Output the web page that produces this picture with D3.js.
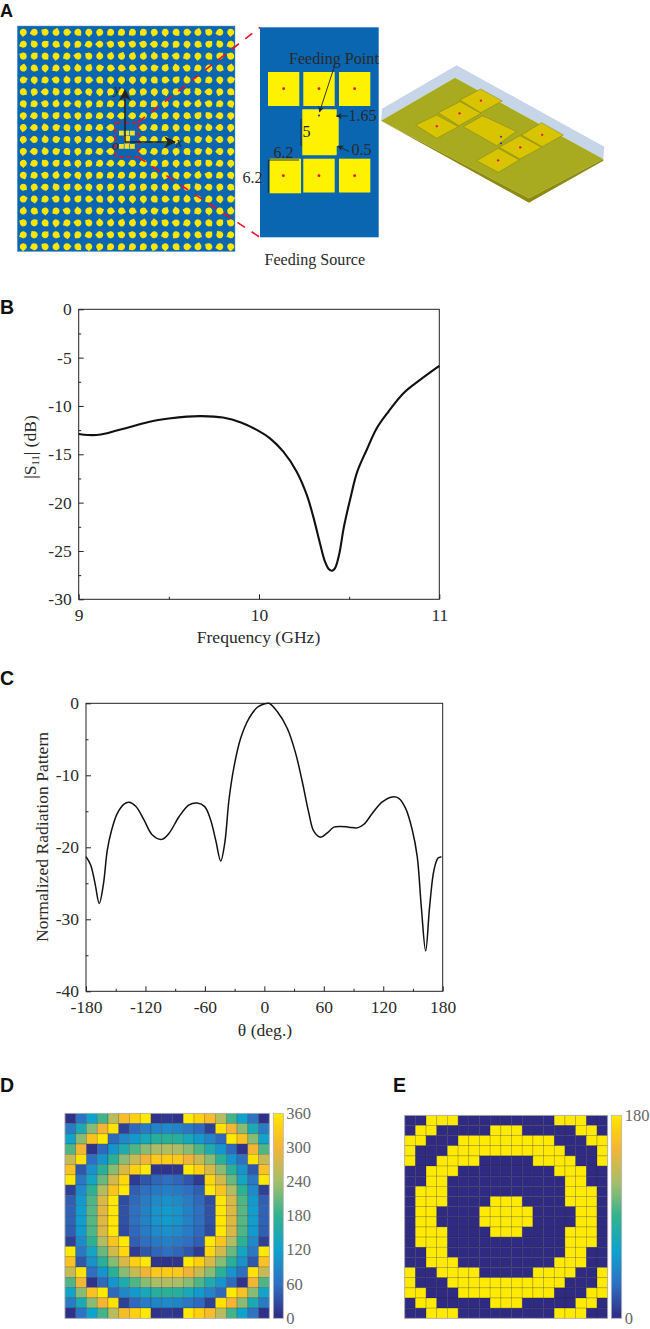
<!DOCTYPE html>
<html>
<head>
<meta charset="utf-8">
<script src="https://cdn.jsdelivr.net/npm/d3@7/dist/d3.min.js"></script>
<style>
  html, body { margin: 0; padding: 0; background: #fff; }
  svg { display: block; }
  text { font-family: "Liberation Serif", serif; fill: #2a2a2a; }
  .letter { font-family: "Liberation Sans", sans-serif; font-weight: 700; font-size: 19.5px; fill: #111; }
  .tick text { font-family: "Liberation Serif", serif; font-size: 17.5px; fill: #2a2a2a; }
  .tick line { stroke: #222; }
</style>
</head>
<body>
<svg id="chart" width="650" height="1329"></svg>
<script>
// Panel B: |S11| against frequency
const s11Freq = [9, 9.05, 9.1, 9.15, 9.2, 9.3, 9.4, 9.5, 9.6, 9.68, 9.8, 9.9, 10, 10.061, 10.135, 10.209, 10.265, 10.301, 10.338, 10.366, 10.388, 10.405, 10.421, 10.444, 10.471, 10.505, 10.545, 10.597, 10.653, 10.717, 10.8, 10.893, 11];
const s11Db = [-12.9, -13, -13, -12.85, -12.6, -12.1, -11.6, -11.3, -11.1, -11.05, -11.2, -11.7, -12.6, -13.35, -14.73, -16.8, -19.2, -21.45, -24.2, -26.1, -26.9, -27.04, -26.8, -25.4, -22.5, -19.7, -16.8, -14.55, -12.3, -10.6, -8.7, -7.3, -5.85];
const s11YTicks = [0, -5, -10, -15, -20, -25, -30];
const s11YMinor = [-2.5, -7.5, -12.5, -17.5, -22.5, -27.5];
const s11XTicks = [9, 10, 11];
const s11XMinor = [9.5, 10.5];

// Panel C: radiation pattern
const patTheta = [-180, -175.3, -170.9, -166.6, -162.5, -158.5, -154.5, -148.4, -141.6, -136.6, -129.8, -121.5, -113, -103.6, -96.2, -86.1, -76, -67.7, -60.2, -54.2, -49.1, -44, -40, -35.7, -30.6, -24, -15.5, -7, -0.4, 4.7, 13, 23.2, 31.6, 38.3, 45, 50, 56.8, 63.5, 70.2, 77, 85.4, 93.8, 100.5, 108.9, 119, 129, 135.8, 142.6, 149.3, 154.3, 158.4, 162.8, 166.8, 171.2, 175.3, 178.7];
const patDb = [-21.3, -22.46, -25, -27.8, -25.2, -20.4, -17.8, -15.3, -14, -13.75, -14.3, -16.2, -18.3, -18.9, -18.05, -15.75, -14.1, -13.85, -14.35, -16.2, -19, -21.9, -19.45, -13.4, -8.8, -4.9, -2.1, -0.55, -0.1, 0, -1.15, -3.5, -6.95, -10.9, -15.3, -17.8, -18.6, -18, -17.2, -17.1, -17.2, -17.3, -16.8, -15.3, -13.7, -13, -13.2, -14.6, -17.6, -21.3, -28.25, -34.4, -28.25, -23.15, -21.5, -21.3];
const patYTicks = [0, -10, -20, -30, -40];
const patYMinor = [-5, -15, -25, -35];
const patXTicks = [-180, -120, -60, 0, 60, 120, 180];
const patXMinor = [-150, -90, -30, 30, 90, 150];

// Panel D: phase distribution, 20 rows of 19 cells
const phaseD = [
  [5, 65, 120, 190, 255, 310, 335, 358, 8, 12, 8, 358, 335, 310, 255, 190, 120, 65, 5],
  [75, 145, 225, 300, 352, 20, 55, 75, 85, 90, 85, 70, 55, 20, 352, 300, 225, 145, 75],
  [125, 225, 318, 358, 55, 88, 110, 140, 165, 172, 165, 140, 110, 85, 55, 358, 318, 225, 125],
  [195, 300, 8, 55, 105, 150, 195, 225, 245, 250, 245, 225, 195, 150, 105, 55, 8, 300, 195],
  [265, 352, 60, 105, 172, 225, 265, 298, 325, 330, 325, 298, 265, 225, 172, 105, 60, 352, 265],
  [318, 40, 100, 170, 225, 280, 335, 358, 10, 8, 10, 358, 335, 280, 225, 170, 100, 40, 318],
  [358, 70, 130, 210, 275, 342, 15, 38, 52, 60, 52, 38, 15, 342, 275, 210, 130, 70, 358],
  [20, 90, 175, 250, 320, 358, 45, 60, 72, 80, 72, 60, 45, 358, 320, 250, 175, 90, 20],
  [45, 110, 195, 280, 356, 30, 55, 75, 90, 100, 90, 75, 55, 30, 356, 280, 195, 110, 45],
  [50, 115, 200, 285, 356, 35, 60, 82, 102, 112, 102, 82, 60, 35, 356, 285, 200, 115, 50],
  [50, 115, 200, 285, 356, 35, 60, 82, 102, 112, 102, 82, 60, 35, 356, 285, 200, 115, 50],
  [45, 110, 195, 280, 356, 30, 55, 75, 90, 100, 90, 75, 55, 30, 356, 280, 195, 110, 45],
  [20, 90, 175, 250, 320, 358, 45, 60, 72, 80, 72, 60, 45, 358, 320, 250, 175, 90, 20],
  [358, 70, 130, 210, 275, 342, 15, 38, 52, 60, 52, 38, 15, 342, 275, 210, 130, 70, 358],
  [318, 40, 100, 170, 225, 280, 335, 358, 10, 8, 10, 358, 335, 280, 225, 170, 100, 40, 318],
  [265, 352, 60, 105, 172, 225, 265, 298, 325, 330, 325, 298, 265, 225, 172, 105, 60, 352, 265],
  [195, 300, 8, 55, 105, 150, 195, 225, 245, 250, 245, 225, 195, 150, 105, 55, 8, 300, 195],
  [125, 225, 318, 358, 55, 88, 110, 140, 165, 172, 165, 140, 110, 85, 55, 358, 318, 225, 125],
  [75, 145, 225, 300, 352, 20, 55, 75, 85, 90, 85, 70, 55, 20, 352, 300, 225, 145, 75],
  [5, 65, 120, 190, 255, 310, 335, 358, 8, 12, 8, 358, 335, 310, 255, 190, 120, 65, 5]
];
const phaseDTicks = [0, 60, 120, 180, 240, 300, 360];

// Panel E: 1-bit phase, 0 means 0 deg. and 1 means 180 deg.
const phaseE = [
  '0011100000000011100',
  '0110000011100000110',
  '1100011111111100011',
  '1000111111111110001',
  '1001111000001111001',
  '0011100000000011100',
  '0011000000000001100',
  '0111000000000001110',
  '0111000011100001110',
  '0110000111110000110',
  '0110000111110000110',
  '0111000011100001110',
  '0111000000000001110',
  '0011000000000001100',
  '0011100000000011100',
  '1001111000001111001',
  '1000111111111110001',
  '1100011111111100011',
  '0110000011100000110',
  '0011100000000011100'
];
const phaseETicks = [0, 180];

const parulaAt = [0, 0.167, 0.333, 0.5, 0.667, 0.833, 0.93, 1];
const parulaStops = ['#2f2a82', '#2f6fc2', '#0ea2cf', '#30b28f', '#a5be6a', '#f2b536', '#ffcf10', '#ffea00'];

// Panel A drawing parts, the 3D view in its own pixel space
const feedPatches = [
  [268, 72, 31.3, 34], [303.3, 72, 31.4, 34], [339, 72, 31.3, 34],
  [269.7, 158.7, 31.3, 34.6], [303.3, 158.7, 31.4, 33.8], [339, 158.7, 31.3, 33.8]
];
const view3dPatches = [
  [[557, 345], [620, 315], [685, 350], [620, 385]],
  [[625, 308], [690, 275], [753, 310], [687, 347]],
  [[690, 270], [752, 237], [817, 273], [752, 308]],
  [[740, 452], [805, 415], [868, 450], [805, 487]],
  [[808, 412], [870, 377], [935, 412], [870, 447]],
  [[875, 375], [935, 338], [1000, 375], [937, 410]]
];

const svg = d3.select('#chart');
const polyLine = d3.line();

function letter(txt, x, y, size) {
  const t = svg.append('text').attr('class', 'letter').attr('x', x).attr('y', y).text(txt);
  if (size) t.style('font-size', size + 'px');
}

function arrowHead(defs, id, size) {
  defs.append('marker')
    .attr('id', id)
    .attr('viewBox', '0 -5 10 10')
    .attr('refX', 9)
    .attr('markerUnits', 'userSpaceOnUse')
    .attr('markerWidth', size)
    .attr('markerHeight', size)
    .attr('orient', 'auto')
    .append('path')
    .attr('d', 'M0,-5 L10,0 L0,5 L3,0 Z')
    .attr('fill', '#222');
}

// Line chart with a plain frame and inward ticks on the left and bottom
function linePanel(o) {
  const x = d3.scaleLinear().domain(o.xDomain).range([o.left, o.right]);
  const y = d3.scaleLinear().domain(o.yDomain).range([o.bottom, o.top]);
  const g = svg.append('g');

  g.append('g').attr('transform', `translate(0,${o.bottom})`)
    .call(d3.axisBottom(x).tickValues(o.xTicks).tickSizeInner(-5).tickSizeOuter(0).tickPadding(9).tickFormat(d => String(d)))
    .call(a => a.select('.domain').remove());
  g.append('g').attr('transform', `translate(0,${o.bottom})`)
    .call(d3.axisBottom(x).tickValues(o.xMinor).tickSizeInner(-2.5).tickSizeOuter(0).tickFormat(''))
    .call(a => a.select('.domain').remove());
  g.append('g').attr('transform', `translate(${o.left},0)`)
    .call(d3.axisLeft(y).tickValues(o.yTicks).tickSizeInner(-5).tickSizeOuter(0).tickPadding(7).tickFormat(d => String(d)))
    .call(a => a.select('.domain').remove());
  g.append('g').attr('transform', `translate(${o.left},0)`)
    .call(d3.axisLeft(y).tickValues(o.yMinor).tickSizeInner(-2.5).tickSizeOuter(0).tickFormat(''))
    .call(a => a.select('.domain').remove());

  g.append('rect')
    .attr('x', o.left).attr('y', o.top)
    .attr('width', o.right - o.left).attr('height', o.bottom - o.top)
    .attr('fill', 'none').attr('stroke', '#222').attr('stroke-width', 1);

  const line = d3.line().x(d => x(d[0])).y(d => y(d[1])).curve(d3.curveCatmullRom.alpha(0.5));
  g.append('path')
    .attr('d', line(d3.zip(o.xs, o.ys)))
    .attr('fill', 'none').attr('stroke', '#111').attr('stroke-width', o.lineWidth);

  g.selectAll('.tick text').style('font-size', '17.5px');
  return g;
}

// Heatmap with a colour bar to its right
function heatPanel(o) {
  const rows = o.values.length, cols = o.values[0].length;
  const x = d3.scaleBand().domain(d3.range(cols)).range([o.left, o.right]);
  const y = d3.scaleBand().domain(d3.range(rows)).range([o.top, o.bottom]);
  const t = d3.scaleLinear().domain(d3.extent(o.ticks)).range([0, 1]);
  const colorOf = d3.scaleLinear().domain(parulaAt).range(parulaStops);

  const g = svg.append('g');
  g.selectAll('g.row')
    .data(o.values)
    .join('g')
    .attr('class', 'row')
    .selectAll('rect')
    .data((row, r) => Array.from(row, (v, c) => ({ r, c, v: +v * o.unit })))
    .join('rect')
    .attr('x', d => x(d.c))
    .attr('y', d => y(d.r))
    .attr('width', x.bandwidth())
    .attr('height', y.bandwidth())
    .attr('fill', d => colorOf(t(d.v)))
    .attr('stroke', '#222')
    .attr('stroke-opacity', 0.35)
    .attr('stroke-width', 0.6);

  g.append('rect')
    .attr('x', o.left).attr('y', o.top)
    .attr('width', o.right - o.left).attr('height', o.bottom - o.top)
    .attr('fill', 'none').attr('stroke', '#b5b5b5').attr('stroke-width', 0.8);

  const grad = svg.append('defs').append('linearGradient')
    .attr('id', o.id).attr('x1', 0).attr('x2', 0).attr('y1', 1).attr('y2', 0);
  parulaStops.forEach((c, i) => {
    grad.append('stop').attr('offset', parulaAt[i]).attr('stop-color', c);
  });
  g.append('rect')
    .attr('x', o.barLeft).attr('y', o.top)
    .attr('width', o.barWidth).attr('height', o.bottom - o.top)
    .attr('fill', `url(#${o.id})`)
    .attr('stroke', '#b5b5b5').attr('stroke-width', 0.8);

  const barY = d3.scaleLinear().domain(d3.extent(o.ticks)).range([o.bottom, o.top]);
  g.selectAll('text.bar')
    .data(o.ticks)
    .join('text')
    .attr('class', 'bar')
    .attr('x', o.barLeft + o.barWidth + 3)
    .attr('y', d => barY(d) + 5.5)
    .attr('font-size', 16.5)
    .style('fill', '#666')
    .text(d => d);
}

// ---------- Panel A ----------
const defs = svg.append('defs');
arrowHead(defs, 'bigArrow', 12);
arrowHead(defs, 'smallArrow', 6);

letter('A', 0, 16.5, 18);

const cellCols = d3.range(20), cellRows = d3.range(19);
const ax = d3.scaleLinear().domain([0, 19]).range([23.3, 230.7]);
const ay = d3.scaleLinear().domain([0, 18]).range([32.3, 246.7]);
const holeBox = { x0: 115.5, x1: 138.5, y0: 122.3, y1: 157.3 };

svg.append('rect')
  .attr('x', 17.3).attr('y', 26)
  .attr('width', 217.7).attr('height', 225.5)
  .attr('fill', '#0b66b1').attr('stroke', '#5b9bd0').attr('stroke-width', 0.5);

const arrayCells = cellCols.flatMap(c => cellRows.map(r => ({ c, r, phase: phaseD[c][r] })))
  .filter(d => !(ax(d.c) > holeBox.x0 && ax(d.c) < holeBox.x1 && ay(d.r) > holeBox.y0 && ay(d.r) < holeBox.y1));

svg.append('g').selectAll('path')
  .data(arrayCells)
  .join('path')
  .attr('d', 'M0,-4.6 L1.6,-3.1 A3.5,3.5 0 1 1 -1.6,-3.1 Z')
  .attr('transform', d => `translate(${ax(d.c)},${ay(d.r)}) rotate(${d.phase + 180})`)
  .attr('fill', '#ffe600');

// tiny copy of the feeding source inside the array
const tiny = svg.append('g').attr('fill', '#f2dd33');
[[119, 130.7], [124.5, 130.7], [130, 130.7], [119, 144], [124.5, 144], [130, 144]].forEach(p => {
  tiny.append('rect').attr('x', p[0]).attr('y', p[1]).attr('width', 4.8).attr('height', 4.8);
});
tiny.append('rect').attr('x', 124).attr('y', 136).attr('width', 6).attr('height', 7.5);

// dashed zoom lines and box
const red = svg.append('g').attr('fill', 'none').attr('stroke', '#e8122d').attr('stroke-width', 1.6);
red.append('rect').attr('x', 115.7).attr('y', 122.5).attr('width', 22.6).attr('height', 34.7).attr('stroke-dasharray', '5 3');
red.append('path').attr('d', polyLine([[138, 122.5], [260, 27.3]])).attr('stroke-dasharray', '9 8');
red.append('path').attr('d', polyLine([[138, 157], [260, 237.3]])).attr('stroke-dasharray', '9 8');

// x and y arrows
const arrows = svg.append('g').attr('stroke', '#222').attr('stroke-width', 1.5).attr('fill', 'none');
arrows.append('path').attr('d', polyLine([[125, 143], [125, 90]])).attr('marker-end', 'url(#bigArrow)');
arrows.append('path').attr('d', polyLine([[125, 142], [175, 142]])).attr('marker-end', 'url(#bigArrow)');
svg.append('text').attr('x', 114).attr('y', 94).attr('font-size', 15).attr('font-style', 'italic').text('y');
svg.append('text').attr('x', 176).attr('y', 147).attr('font-size', 15).attr('font-style', 'italic').text('x');
svg.append('text').attr('x', 112).attr('y', 150).attr('font-size', 14).attr('font-style', 'italic').text('o');

// Feeding source close-up
svg.append('rect').attr('x', 260).attr('y', 27.3).attr('width', 118.7).attr('height', 210).attr('fill', '#0b66b1');
svg.append('g').selectAll('rect')
  .data(feedPatches)
  .join('rect')
  .attr('x', d => d[0]).attr('y', d => d[1]).attr('width', d => d[2]).attr('height', d => d[3])
  .attr('fill', '#fff200');
svg.append('path')
  .attr('d', polyLine([[302.3, 109.3], [336.7, 109.3], [336.7, 117], [338.7, 117], [338.7, 146], [336.7, 146], [336.7, 155.3], [302.3, 155.3]]) + 'Z')
  .attr('fill', '#fff200');
svg.append('g').selectAll('circle')
  .data(feedPatches)
  .join('circle')
  .attr('cx', d => d[0] === 269.7 ? 283.3 : d[0] + d[2] / 2)
  .attr('cy', d => d[1] === 72 ? 88.7 : 175.7)
  .attr('r', 1.4)
  .attr('fill', '#e8112d');
svg.append('circle').attr('cx', 319).attr('cy', 115.5).attr('r', 1.1).attr('fill', '#2b3a9b');

const notes = svg.append('g').attr('stroke', '#222').attr('stroke-width', 0.9).attr('fill', 'none');
notes.append('path').attr('d', polyLine([[335, 64.5], [319.5, 112]])).attr('marker-end', 'url(#smallArrow)');
notes.append('path').attr('d', polyLine([[348, 116], [336.5, 116]])).attr('marker-end', 'url(#smallArrow)');
notes.append('path').attr('d', polyLine([[349, 151.5], [338, 146]])).attr('marker-end', 'url(#smallArrow)');
notes.append('path').attr('d', polyLine([[301, 119], [301, 146]]));
notes.append('path').attr('d', polyLine([[269, 160], [299, 160]]));
notes.append('path').attr('d', polyLine([[268.3, 160], [268.3, 192.7]]));

const noteText = [
  ['Feeding Point', 289, 63.5], ['1.65', 348.5, 120.5], ['5', 302.5, 137], ['0.5', 351.5, 154.7],
  ['6.2', 273.5, 158], ['6.2', 242.5, 182.5], ['Feeding Source', 264.5, 265]
];
svg.append('g').selectAll('text')
  .data(noteText)
  .join('text')
  .attr('x', d => d[1]).attr('y', d => d[2])
  .attr('font-size', 16.1)
  .text(d => d[0]);

// 3D view
const v3 = svg.append('g').attr('transform', 'translate(230,10) scale(0.3333)');
v3.append('path').attr('d', polyLine([[456, 296], [680, 166], [1123, 410], [1120, 447], [675, 203], [453, 332]]) + 'Z').attr('fill', '#c6d6e8');
v3.append('path').attr('d', polyLine([[453, 332], [675, 203], [1120, 447], [897, 565]]) + 'Z').attr('fill', '#a8ab1f');
v3.append('path').attr('d', polyLine([[453, 332], [897, 565], [1120, 447], [1120, 452], [897, 578]]) + 'Z').attr('fill', '#8d8b0e');
v3.selectAll('path.patch')
  .data(view3dPatches)
  .join('path')
  .attr('class', 'patch')
  .attr('d', d => polyLine(d) + 'Z')
  .attr('fill', '#d9c400')
  .attr('stroke', '#7f7f1a')
  .attr('stroke-width', 1.5);
v3.append('path')
  .attr('d', polyLine([[700, 350], [757, 318], [775, 325], [860, 365], [848, 372], [800, 407]]) + 'Z')
  .attr('fill', '#d9c400').attr('stroke', '#7f7f1a').attr('stroke-width', 1.5);
v3.selectAll('circle.feed')
  .data(view3dPatches)
  .join('circle')
  .attr('class', 'feed')
  .attr('cx', d => d3.mean(d, p => p[0]))
  .attr('cy', d => d3.mean(d, p => p[1]))
  .attr('r', 3.5)
  .attr('fill', '#e8112d');
v3.append('circle').attr('cx', 813).attr('cy', 380).attr('r', 3).attr('fill', '#2b3a9b');
v3.append('circle').attr('cx', 813).attr('cy', 400).attr('r', 3).attr('fill', '#2b3a9b');

// ---------- Panel B ----------
letter('B', 0, 314);
const panelB = linePanel({
  left: 78.7, right: 439.3, top: 309.3, bottom: 599.3,
  xDomain: [9, 11], yDomain: [-30, 0],
  xTicks: s11XTicks, xMinor: s11XMinor, yTicks: s11YTicks, yMinor: s11YMinor,
  xs: s11Freq, ys: s11Db, lineWidth: 2.1
});
panelB.append('text')
  .attr('x', 258.5).attr('y', 643).attr('text-anchor', 'middle').attr('font-size', 17.6)
  .text('Frequency (GHz)');
const s11Title = panelB.append('text')
  .attr('transform', 'translate(36,447) rotate(-90)')
  .attr('text-anchor', 'middle').attr('font-size', 17.6);
s11Title.append('tspan').text('|S');
s11Title.append('tspan').attr('font-size', 10.5).attr('dy', 3).text('11');
s11Title.append('tspan').attr('dy', -3).text('| (dB)');

// ---------- Panel C ----------
letter('C', 0, 685);
const panelC = linePanel({
  left: 86, right: 442.7, top: 703.3, bottom: 991.3,
  xDomain: [-180, 180], yDomain: [-40, 0],
  xTicks: patXTicks, xMinor: patXMinor, yTicks: patYTicks, yMinor: patYMinor,
  xs: patTheta, ys: patDb, lineWidth: 1.5
});
panelC.append('text')
  .attr('x', 265).attr('y', 1036).attr('text-anchor', 'middle').attr('font-size', 17.6)
  .text('θ (deg.)');
panelC.append('text')
  .attr('transform', 'translate(48,837) rotate(-90)')
  .attr('text-anchor', 'middle').attr('font-size', 17.6)
  .text('Normalized Radiation Pattern');

// ---------- Panels D and E ----------
letter('D', 0, 1092);
heatPanel({
  id: 'barD', values: phaseD, unit: 1, ticks: phaseDTicks,
  left: 65, right: 269.3, top: 1113.3, bottom: 1318.3,
  barLeft: 273.3, barWidth: 10
});

letter('E', 393, 1092);
heatPanel({
  id: 'barE', values: phaseE, unit: 180, ticks: phaseETicks,
  left: 404.7, right: 607.7, top: 1115.3, bottom: 1318.3,
  barLeft: 611.3, barWidth: 10.4
});
</script>
</body>
</html>
